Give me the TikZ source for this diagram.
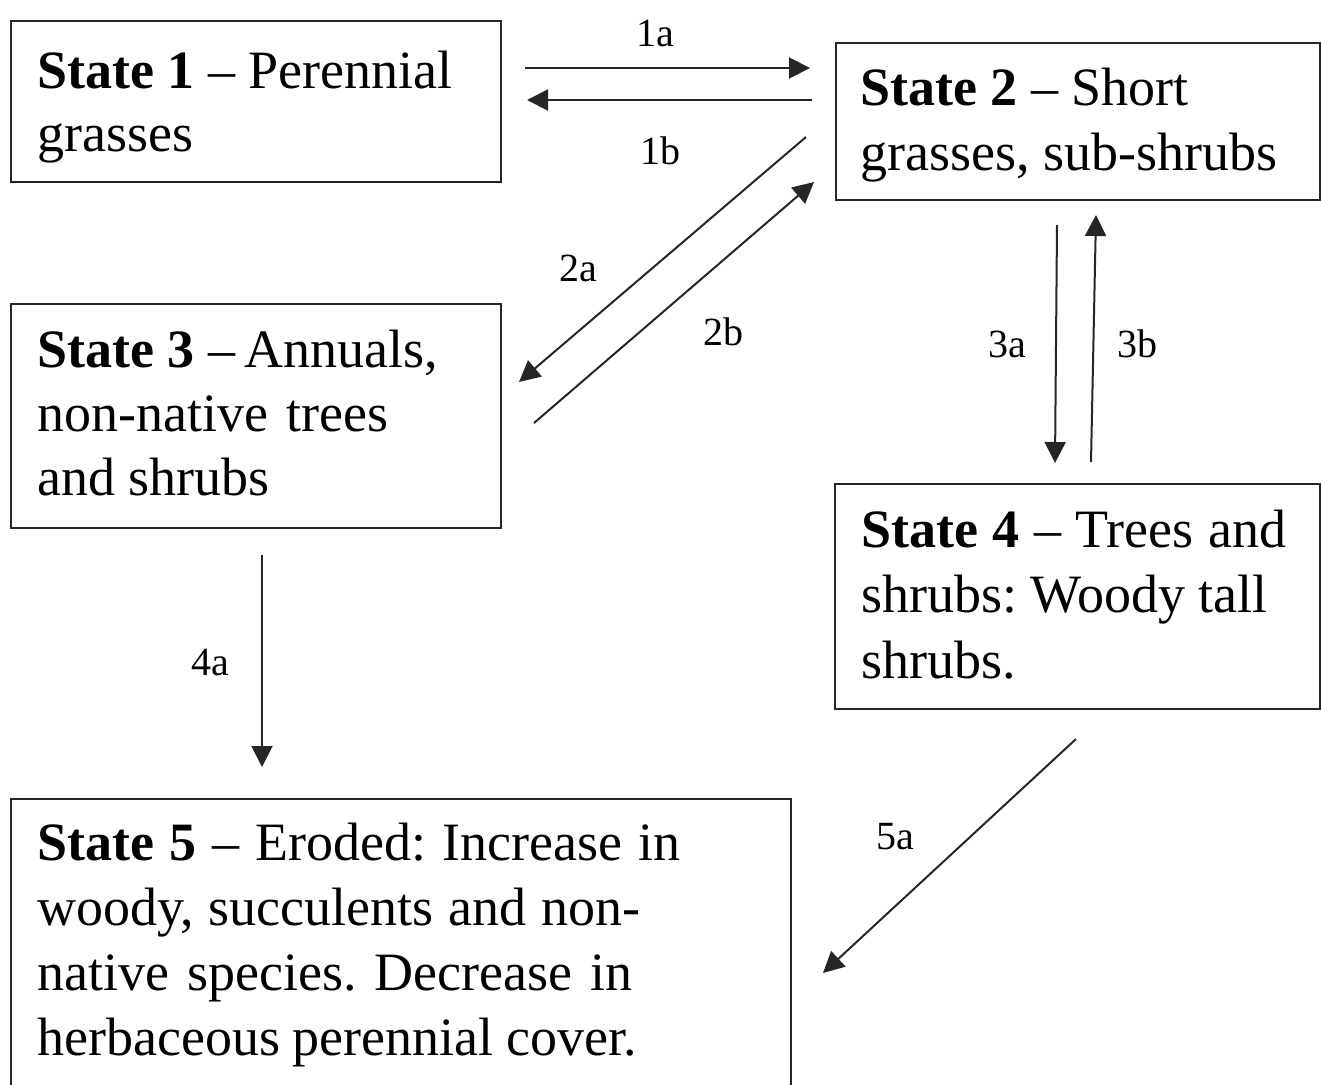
\documentclass[tikz,border=0pt]{standalone}
\usepackage{fontspec}
\setmainfont{Liberation Serif}
\usetikzlibrary{arrows.meta,calc}
\begin{document}
\frenchspacing
\begin{tikzpicture}[x=1pt,y=-1pt,
  box/.style={draw=black!85, line width=2pt, inner sep=0pt, anchor=north west},
  txt/.style={inner sep=0pt, anchor=base west, font=\fontsize{54}{65}\selectfont},
  lbl/.style={inner sep=0pt, font=\fontsize{40}{44}\selectfont},
  arr/.style={draw=black!85, line width=2pt, -{Triangle[length=21pt,width=21pt]}}]
\useasboundingbox (0,0) rectangle (1321,1084);
\clip (0,0) rectangle (1321,1084);
% boxes
\node[box, minimum width=490pt, minimum height=161pt] (s1) at (10,20) {};
\node[box, minimum width=484pt, minimum height=157pt] (s2) at (835,42) {};
\node[box, minimum width=490pt, minimum height=224pt] (s3) at (10,303) {};
\node[box, minimum width=485pt, minimum height=225pt] (s4) at (834,483) {};
\node[box, minimum width=780pt, minimum height=320pt] (s5) at (10,798) {};
% texts
\node[txt] (t1) at (37,88) {\parbox[t]{460pt}{\fontsize{54}{63}\selectfont
  \textbf{State 1} – Perennial\\grasses}};
\node[txt] (t2) at (860,105) {\parbox[t]{450pt}{\fontsize{54}{65}\selectfont
  \textbf{State 2} – Short\\grasses, sub-shrubs}};
\node[txt] (t3) at (37,367) {\parbox[t]{460pt}{\fontsize{54}{64}\selectfont
  \textbf{State 3} –\,Annuals,\\\makebox[351pt][s]{non-native trees}\\and shrubs}};
\node[txt] (t4) at (861,547) {\parbox[t]{450pt}{\fontsize{54}{65.5}\selectfont
  \makebox[425pt][s]{\textbf{State 4} – Trees and}\\shrubs: Woody tall\\shrubs.}};
\node[txt] (t5) at (37,860) {\parbox[t]{750pt}{\fontsize{54}{65}\selectfont
  \makebox[643pt][s]{\textbf{State 5} – Eroded: Increase in}\\
  \makebox[603pt][s]{woody, succulents and non-}\\
  \makebox[595pt][s]{native species. Decrease in}\\
  \makebox[600pt][s]{herbaceous perennial cover.}}};
% connectors
\draw[arr] ($(s1.north east)+(23,48)$) -- ($(s2.north west)+(-25,26)$);
\draw[arr] ($(s2.north west)+(-23,58)$) -- ($(s1.north east)+(25,80)$);
\draw[arr] ($(s2.north west)+(-29,95)$) -- ($(s3.north east)+(17,79)$);
\draw[arr] ($(s3.north east)+(32,120)$) -- ($(s2.north west)+(-21,140)$);
\draw[arr] ($(s2.south west)+(222,24)$) -- ($(s4.north west)+(221,-20)$);
\draw[arr] ($(s4.north west)+(257,-21)$) -- ($(s2.south west)+(261,14)$);
\draw[arr] ($(s3.south west)+(252,26)$) -- ($(s5.north west)+(252,-31)$);
\draw[arr] ($(s4.south west)+(242,29)$) -- ($(s5.north east)+(31,175)$);
% labels
\node[lbl] (l1a) at (655,33) {1a};
\node[lbl] (l1b) at (660,151) {1b};
\node[lbl] (l2a) at (578,268) {2a};
\node[lbl] (l2b) at (723,332) {2b};
\node[lbl] (l3a) at (1007,344) {3a};
\node[lbl] (l3b) at (1137,344) {3b};
\node[lbl] (l4a) at (210,663) {4a};
\node[lbl] (l5a) at (895,837) {5a};
\end{tikzpicture}
\end{document}
